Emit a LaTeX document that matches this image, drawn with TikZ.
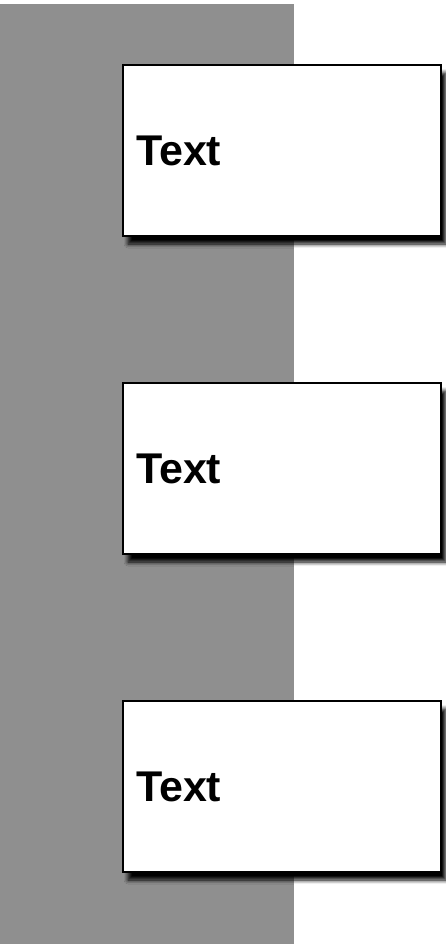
\documentclass[tikz,border=0pt]{standalone}
\usepackage{fontspec}
\setmainfont{Liberation Sans}
\usetikzlibrary{shadows.blur}
\definecolor{lanegray}{RGB}{143,143,143}
\begin{document}
\begin{tikzpicture}[x=1pt,y=-1pt,
  textbox/.style={draw=black, line width=2pt, fill=white, rectangle,
    minimum width=318pt, minimum height=171pt, text width=292pt, align=left,
    inner xsep=13pt, inner ysep=0pt, anchor=north west,
    font=\fontsize{43}{47}\selectfont\bfseries,
    blur shadow={shadow xshift=5pt, shadow yshift=-8pt, shadow blur radius=4pt, shadow blur steps=10, shadow opacity=100}}]
\useasboundingbox (0,0) rectangle (445,944);
\fill[lanegray] (0,4) rectangle (294,944);
\node[textbox] (b1) at (122,64) {Text};
\node[textbox] (b2) at (122,382) {Text};
\node[textbox] (b3) at (122,700) {Text};
\end{tikzpicture}
\end{document}
